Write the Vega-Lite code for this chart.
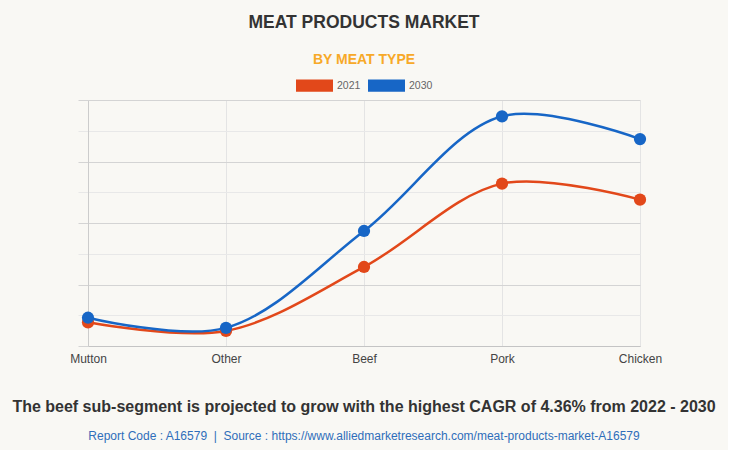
{
  "$schema": "https://vega.github.io/schema/vega-lite/v6.json",
  "background": "#f9f8f4",
  "padding": {"left": 12, "top": 13, "right": 12, "bottom": 8},
  "title": {
    "text": "MEAT PRODUCTS MARKET",
    "subtitle": "BY MEAT TYPE",
    "anchor": "middle",
    "font": "Liberation Sans",
    "fontSize": 17.5,
    "fontWeight": "bold",
    "color": "#333333",
    "subtitleFont": "Liberation Sans",
    "subtitleFontSize": 14,
    "subtitleFontWeight": "bold",
    "subtitleColor": "#f7a928",
    "subtitlePadding": 22,
    "offset": 0
  },
  "vconcat": [
    {
      "width": 552,
      "height": 246,
      "title": {
        "text": "The beef sub-segment is projected to grow with the highest CAGR of 4.36% from 2022 - 2030",
        "subtitle": "Report Code : A16579 \u00a0|\u00a0 Source : https://www.alliedmarketresearch.com/meat-products-market-A16579",
        "orient": "bottom",
        "anchor": "middle",
        "font": "Liberation Sans",
        "fontSize": 16,
        "fontWeight": "bold",
        "color": "#333333",
        "subtitleFont": "Liberation Sans",
        "subtitleFontSize": 12,
        "subtitleColor": "#2f6eba",
        "subtitlePadding": 16,
        "offset": 35
      },
      "data": {
        "values": [
          {"type": "Mutton", "year": "2021", "value": 0.77},
          {"type": "Other", "year": "2021", "value": 0.49},
          {"type": "Beef", "year": "2021", "value": 2.57},
          {"type": "Pork", "year": "2021", "value": 5.28},
          {"type": "Chicken", "year": "2021", "value": 4.76},
          {"type": "Mutton", "year": "2030", "value": 0.92},
          {"type": "Other", "year": "2030", "value": 0.59},
          {"type": "Beef", "year": "2030", "value": 3.74},
          {"type": "Pork", "year": "2030", "value": 7.47},
          {"type": "Chicken", "year": "2030", "value": 6.73}
        ]
      },
      "encoding": {
        "x": {
          "field": "type",
          "type": "ordinal",
          "sort": ["Mutton", "Other", "Beef", "Pork", "Chicken"],
          "scale": {"type": "point", "padding": 0},
          "axis": {
            "title": null,
            "labelAngle": 0,
            "labelFont": "Liberation Sans",
            "labelFontSize": 12,
            "labelColor": "#444444",
            "labelPadding": 7,
            "ticks": false,
            "domain": true,
            "domainColor": "#c4c4c4",
            "grid": true,
            "gridColor": "#e4e4e4"
          }
        },
        "y": {
          "field": "value",
          "type": "quantitative",
          "scale": {"domain": [0, 8], "nice": false, "zero": true},
          "axis": {
            "title": null,
            "labels": false,
            "values": [0, 1, 2, 3, 4, 5, 6, 7, 8],
            "domain": true,
            "domainColor": "#cccccc",
            "ticks": true,
            "tickSize": 10,
            "tickColor": {"condition": {"test": "datum.value % 2 === 0", "value": "#d4d4d4"}, "value": "#e8e8e8"},
            "grid": true,
            "gridColor": {"condition": {"test": "datum.value % 2 === 0", "value": "#d4d4d4"}, "value": "#e8e8e8"}
          }
        },
        "color": {
          "field": "year",
          "type": "nominal",
          "scale": {"domain": ["2021", "2030"], "range": ["#e2481a", "#1766c6"]},
          "legend": {
            "title": null,
            "orient": "top",
            "direction": "horizontal",
            "symbolType": "M-1,-0.33H1V0.33H-1Z",
            "symbolSize": 1369,
            "symbolStrokeWidth": 0,
            "symbolOpacity": 1,
            "labelFont": "Liberation Sans",
            "labelFontSize": 10.5,
            "labelColor": "#666666",
            "labelOffset": 4,
            "columnPadding": 7,
            "offset": 7
          }
        }
      },
      "layer": [
        {
          "mark": {"type": "line", "interpolate": "catmull-rom", "strokeWidth": 2.5}
        },
        {
          "mark": {"type": "point", "filled": true, "size": 150, "opacity": 1}
        }
      ]
    }
  ],
  "config": {
    "view": {"stroke": null},
    "font": "Liberation Sans",
    "legend": {"layout": {"top": {"anchor": "middle"}}}
  }
}
